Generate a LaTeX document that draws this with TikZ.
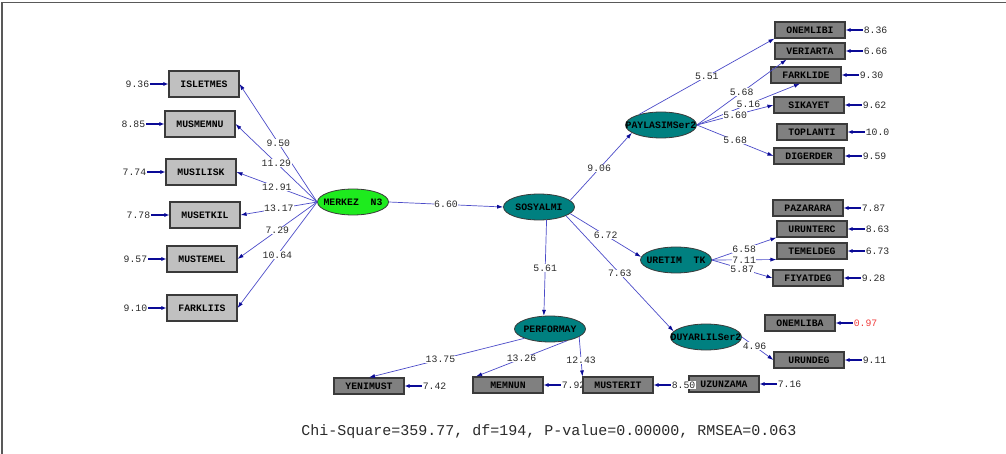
\documentclass[tikz,border=0pt]{standalone}
\usepackage{fontspec}
\newfontfamily\lisfont{Liberation Mono}
\usepackage{tikz}
\usetikzlibrary{arrows.meta,shapes}
\usetikzlibrary{positioning}

\definecolor{pathblue}{HTML}{4B4BC8}
\definecolor{headblue}{HTML}{0A0A96}
\definecolor{lvteal}{HTML}{008080}
\definecolor{lvgreen}{HTML}{1EEB1E}
\definecolor{lgray}{HTML}{C0C0C0}
\definecolor{dgray}{HTML}{808080}
\definecolor{boxline}{HTML}{3A3A3A}
\definecolor{numgray}{HTML}{2A2A2A}
\definecolor{errred}{HTML}{F03C3C}

\newcommand\lisz{\fontsize{9.8}{10}\selectfont}

\tikzset{
  obsl/.style={draw=boxline, line width=1.1pt, fill=lgray, minimum width=70pt,
    minimum height=26pt, inner sep=0pt, text=black, font=\lisfont\bfseries\lisz},
  obsr/.style={obsl, fill=dgray, minimum height=16pt},
  latent/.style={ellipse, draw=boxline, line width=0.8pt, fill=lvteal, minimum width=71pt,
    minimum height=26pt, inner sep=0pt, text=black, font=\lisfont\bfseries\lisz},
  load/.style={draw=pathblue, line width=0.7pt, -{Latex[length=6pt,width=4pt,color=headblue]}},
  err/.style={draw=headblue, line width=1.2pt, -{Latex[length=5pt,width=4pt]}},
  coef/.style={fill=white, inner sep=0.5pt, text=numgray, font=\lisfont\lisz},
  errval/.style={inner sep=1pt, text=numgray, font=\lisfont\lisz},
  frame/.style={draw=black!65, line width=1.3pt}
}

\begin{document}
\begin{tikzpicture}[x=1pt,y=-1pt]
\useasboundingbox (0,0) rectangle (1006,454);
\draw[frame] (2,454) -- (2,2.5) -- (1006,2.5);

% latent variables
\node[latent, fill=lvgreen] (merkez) at (353,202) {\makebox[0pt]{MERKEZ\ \ N3}};
\node[latent] (sosyalmi) at (539,207) {\makebox[0pt]{SOSYALMI}};
\node[latent] (paylasim) at (661,125) {\makebox[0pt]{PAYLASIMSer2}};
\node[latent] (uretim) at (676,260) {\makebox[0pt]{URETIM\ \ TK}};
\node[latent] (duyarlil) at (706,337) {\makebox[0pt]{DUYARLILSer2}};
\node[latent] (performay) at (550,329) {\makebox[0pt]{PERFORMAY}};

% MERKEZ indicators
\foreach \nm/\txt/\x/\y/\ev/\lv in {isletmes/ISLETMES/204/84/9.36/9.50,
    musmemnu/MUSMEMNU/200/124/8.85/11.29, musilisk/MUSILISK/201/172/7.74/12.91,
    musetkil/MUSETKIL/205/215/7.78/13.17, mustemel/MUSTEMEL/202/259/9.57/7.29,
    farkliis/FARKLIIS/202/308/9.10/10.64}{
  \node[obsl] (\nm) at (\x,\y) {\txt};
  \node[errval, left=18pt of \nm] (e-\nm) {\ev};
  \draw[err] (e-\nm) -- (\nm);
  \draw[load] (merkez.west) -- node[coef] (c-\nm) {\lv} (\nm.east);
}

% right indicators
\foreach \nm/\txt/\x/\y/\ev in {onemlibi/ONEMLIBI/810/30/8.36, veriarta/VERIARTA/810/51/6.66,
    farklide/FARKLIDE/806/75/9.30, sikayet/SIKAYET/809/105/9.62,
    toplanti/TOPLANTI/812/132/10.0, digerder/DIGERDER/809/156/9.59,
    pazarara/PAZARARA/808/208/7.87, urunterc/URUNTERC/812/229/8.63,
    temeldeg/TEMELDEG/812/251/6.73, fiyatdeg/FIYATDEG/808/278/9.28,
    urundeg/URUNDEG/809/360/9.11, yenimust/YENIMUST/369/386/7.42,
    memnun/MEMNUN/508/385/7.92, uzunzama/UZUNZAMA/724/384/7.16}{
  \node[obsr] (\nm) at (\x,\y) {\txt};
  \node[errval, right=17pt of \nm] (e-\nm) {\ev};
  \draw[err] (e-\nm) -- (\nm);
}
\node[obsr] (onemliba) at (800,323) {ONEMLIBA};
\node[errval, text=errred, right=17pt of onemliba] (e-onemliba) {0.97};
\draw[err] (e-onemliba) -- (onemliba);
\node[obsr] (musterit) at (618,385) {MUSTERIT};
\node[errval, fill=white, right=17pt of musterit] (e-musterit) {8.50};
\draw[err] (e-musterit) -- (musterit);

% structural paths
\draw[load] (merkez.east) -- node[coef] (c-sosyalmi) {6.60} (sosyalmi.west);
\draw[load] (sosyalmi.12) -- node[coef, pos=0.47] (c-paylasim) {9.06} (paylasim.-165);
\draw[load] (sosyalmi.-12) -- node[coef] (c-uretim) {6.72} (uretim.175);
\draw[load] (sosyalmi.-18) -- node[coef] (c-duyarlil) {7.63} (duyarlil.170);
\draw[load] (sosyalmi.-60) -- node[coef] (c-performay) {5.61} (performay.115);

% loadings
\draw[load] (paylasim.154) -- node[coef] (c-onemlibi) {5.51} (onemlibi.south west);
\draw[load] (paylasim.east) -- node[coef] (c-veriarta) {5.68} (veriarta.-160);
\draw[load] (paylasim.east) -- node[coef] (c-farklide) {5.16} (farklide.-125);
\draw[load] (paylasim.east) -- node[coef] (c-sikayet) {5.60} (sikayet.west);
\draw[load] (paylasim.east) -- node[coef] (c-digerder) {5.68} (digerder.west);
\draw[load] (uretim.east) -- node[coef] (c-urunterc) {6.58} (urunterc.south west);
\draw[load] (uretim.east) -- node[coef] (c-temeldeg) {7.11} (temeldeg.south west);
\draw[load] (uretim.east) -- node[coef] (c-fiyatdeg) {5.87} (fiyatdeg.west);
\draw[load] (duyarlil.east) -- node[coef, pos=0.4] (c-urundeg) {4.96} (urundeg.west);
\draw[load] (performay.-160) -- node[coef, pos=0.54] (c-yenimust) {13.75} (yenimust.north);
\draw[load] (performay.-35) -- node[coef] (c-memnun) {13.26} (memnun.165);
\draw[load] (performay.-15) -- node[coef, pos=0.6] (c-musterit) {12.43} (musterit.north west);

\node[text=numgray, font=\lisfont\fontsize{15}{16}\selectfont] (fit) at (549,432)
  {Chi-Square=359.77, df=194, P-value=0.00000, RMSEA=0.063};
\end{tikzpicture}
\end{document}
